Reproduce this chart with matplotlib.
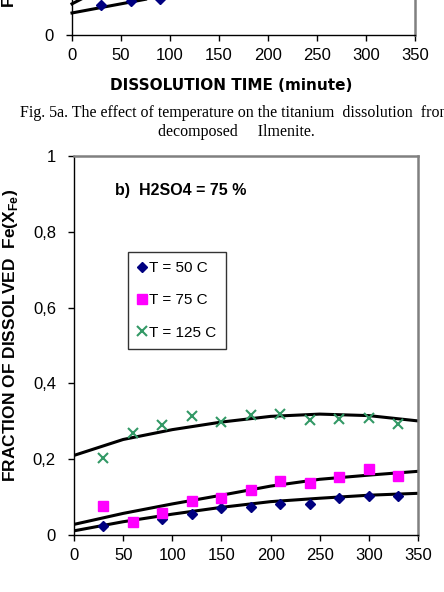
import matplotlib
matplotlib.use("Agg")
import matplotlib.pyplot as plt  # noqa: E402

plt.rcParams["font.family"] = ["Liberation Sans", "DejaVu Sans"]
plt.rcParams["mathtext.fontset"] = "custom"
plt.rcParams["mathtext.rm"] = "Liberation Sans:bold"
plt.rcParams["mathtext.bf"] = "Liberation Sans:bold"

# ---- data, panel b (H2SO4 = 75 %) ----
time_min = [30, 60, 90, 120, 150, 180, 210, 240, 270, 300, 330]
fe_50c = [0.024, 0.035, 0.042, 0.055, 0.070, 0.075, 0.083, 0.083, 0.097, 0.103, 0.103]
fe_75c = [0.077, 0.035, 0.059, 0.090, 0.097, 0.120, 0.142, 0.138, 0.153, 0.174, 0.155]
fe_125c = [0.204, 0.268, 0.289, 0.314, 0.297, 0.316, 0.318, 0.303, 0.307, 0.309, 0.294]
series_labels = ["T = 50 C", "T = 75 C", "T = 125 C"]

trend_time = [0, 50, 100, 150, 200, 250, 300, 350]
trend_50c = [0.011, 0.035, 0.055, 0.073, 0.088, 0.097, 0.105, 0.110]
trend_75c = [0.028, 0.057, 0.082, 0.105, 0.129, 0.147, 0.158, 0.168]
trend_125c = [0.210, 0.252, 0.278, 0.298, 0.313, 0.319, 0.315, 0.301]

y_ticks = [0, 0.2, 0.4, 0.6, 0.8, 1.0]
y_ticklabels = ["0", "0,2", "0,4", "0,6", "0,8", "1"]
x_ticks = [0, 50, 100, 150, 200, 250, 300, 350]

# ---- data, bottom edge of panel a (figure above, mostly cut off) ----
top_time = [30, 60, 90]
top_vals = [0.079, 0.089, 0.096]
top_line1_x = [0, 75]
top_line1_y = [0.058, 0.094]
top_line2_x = [0, 9]
top_line2_y = [0.082, 0.094]

W, H = 444, 592
fig = plt.figure(figsize=(W / 100, H / 100), dpi=100)
fig.patch.set_facecolor("white")


def px_axes(left, right, top, bottom):
    return fig.add_axes([left / W, 1 - bottom / H, (right - left) / W, (bottom - top) / H])


def style(ax, yt, ytl):
    ax.set_xlim(0, 350)
    ax.set_ylim(0, 1)
    ax.set_xticks(x_ticks)
    ax.set_xticklabels([str(v) for v in x_ticks])
    ax.set_yticks(yt)
    ax.set_yticklabels(ytl)
    ax.tick_params(direction="out", length=4, width=1, labelsize=12,
                   colors="black")
    ax.tick_params(axis="x", pad=5)
    ax.tick_params(axis="y", pad=9)
    for s in ("left", "bottom"):
        ax.spines[s].set_color("black")
        ax.spines[s].set_linewidth(1.0)
    for s in ("top", "right"):
        ax.spines[s].set_color("#808080")
        ax.spines[s].set_linewidth(1.8)


# panel a remnant: axes reach above the figure top
ax_top = px_axes(72, 415, 35 - 380, 35)
style(ax_top, [0], ["0"])
ax_top.plot(top_line1_x, top_line1_y, color="black", lw=2.2, clip_on=False)
ax_top.plot(top_line2_x, top_line2_y, color="black", lw=2.2, clip_on=False)
ax_top.plot(top_time, top_vals, "D", color="#000080", ms=5, clip_on=False)
fig.text(231 / W, 1 - 85 / H, "DISSOLUTION TIME (minute)", ha="center",
         va="center", fontsize=11, fontweight="bold", family="DejaVu Sans")
fig.text(20 / W, 1 - 113 / H,
         "Fig. 5a. The effect of temperature on the titanium  dissolution  from",
         ha="left", va="center", fontsize=11.5, family="Liberation Serif")
fig.text(236 / W, 1 - 132 / H, "decomposed     Ilmenite.", ha="center",
         va="center", fontsize=11.5, family="Liberation Serif")
fig.text(10 / W, 1 - 7 / H, "FRACTION OF DISSOLVED", rotation=90, ha="center",
         va="bottom", fontsize=12.5, fontweight="bold")

# panel b
ax = px_axes(74, 418, 156, 535)
style(ax, y_ticks, y_ticklabels)
for tr in (trend_50c, trend_75c, trend_125c):
    ax.plot(trend_time, tr, color="black", lw=2.2, zorder=2,
            solid_joinstyle="round")

h1, = ax.plot(time_min, fe_50c, "D", color="#000080", ms=5, zorder=3)
h2, = ax.plot(time_min, fe_75c, "s", color="#FF00FF", ms=7, zorder=3)
h3, = ax.plot(time_min, fe_125c, "x", color="#339966", ms=7, mew=1.5, zorder=3)

ax.text(42, 0.908, "b)  H2SO4 = 75 %", ha="left", va="center",
        fontsize=11.5, fontweight="bold")

leg = ax.legend([h1, h2, h3], series_labels, loc="upper left",
                bbox_to_anchor=((128 - 74) / 344, (535 - 252) / 379),
                fontsize=11, frameon=True, fancybox=False, borderpad=0.6,
                labelspacing=1.2, handlelength=0.6, handletextpad=0.2,
                borderaxespad=0)
leg.get_frame().set_edgecolor("black")
leg.get_frame().set_linewidth(1.0)

fig.text(11 / W, 1 - 335 / H, r"FRACTION OF DISSOLVED  Fe(X$_{\mathbf{Fe}}$)",
         rotation=90, ha="center", va="center", fontsize=12.5, fontweight="bold")

fig.savefig("out.png", dpi=100, facecolor="white")
